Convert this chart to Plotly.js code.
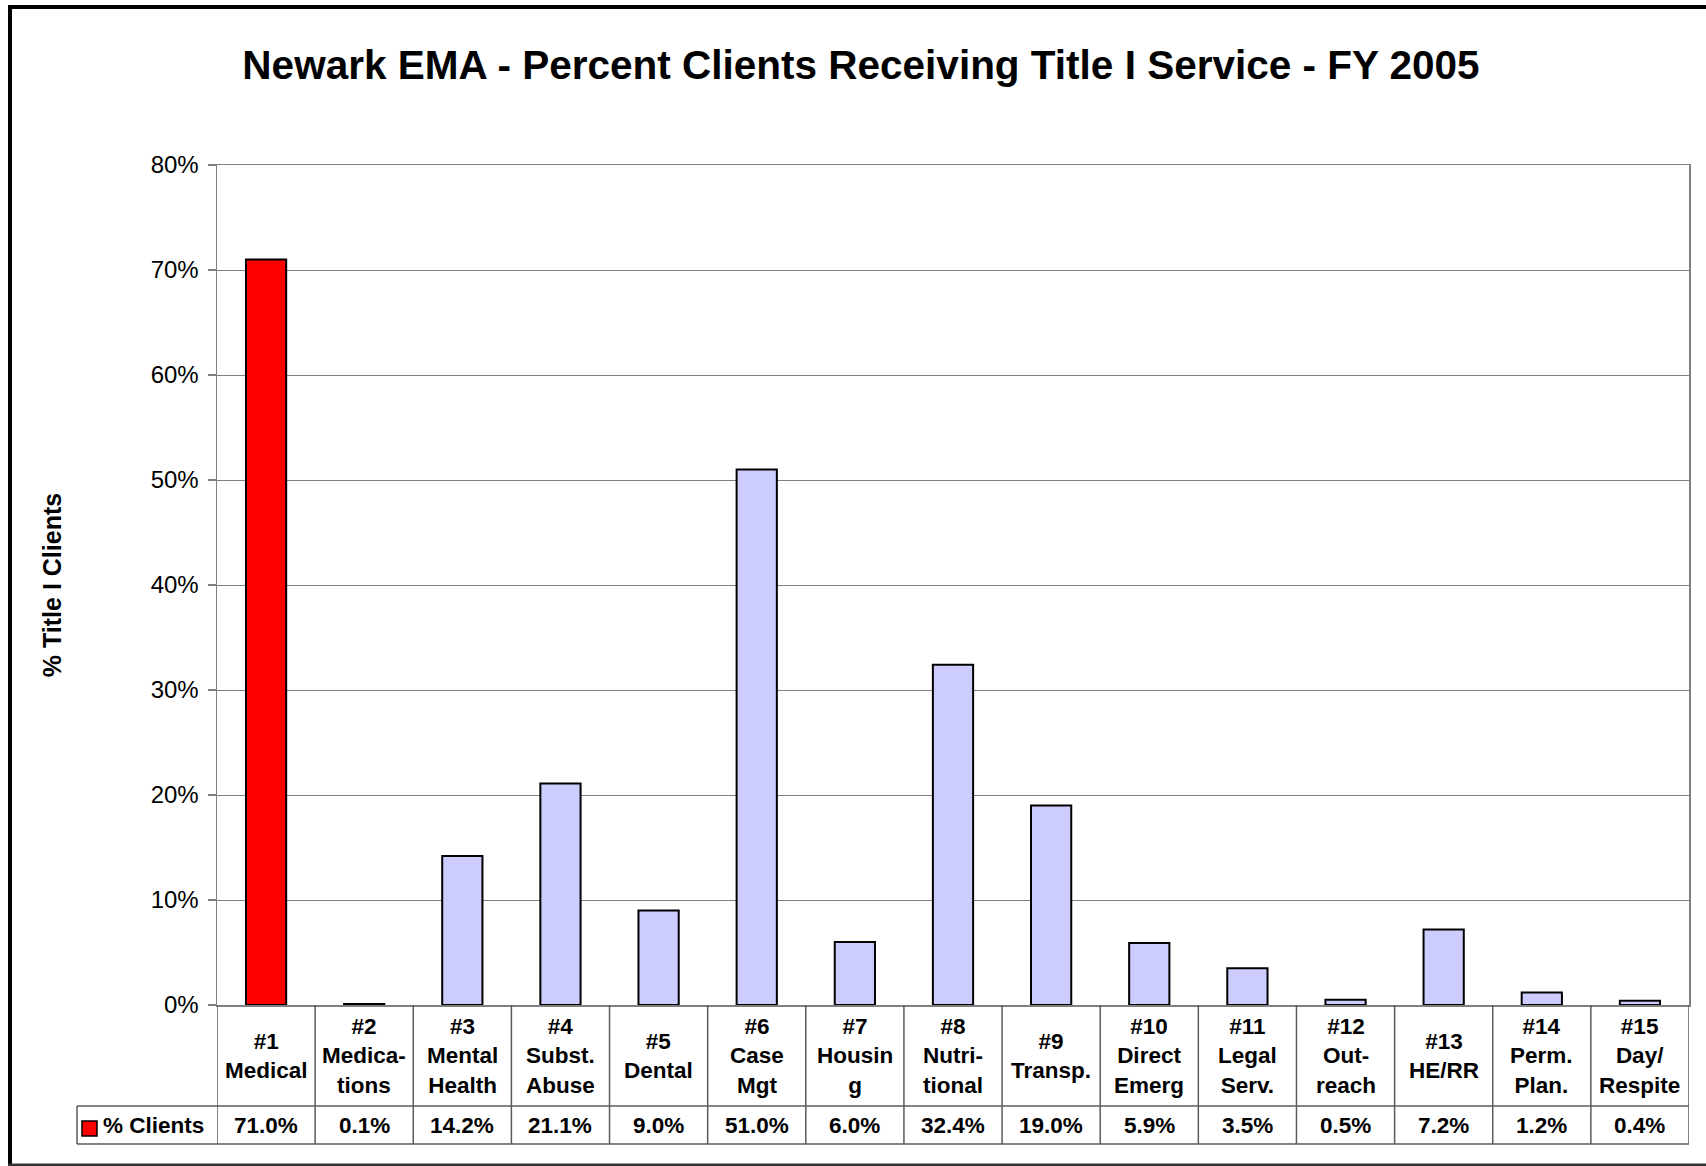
<!DOCTYPE html>
<html>
<head>
<meta charset="utf-8">
<script src="https://cdn.plot.ly/plotly-3.0.1.min.js"></script>
<style>
  html, body { margin: 0; padding: 0; background: #ffffff; }
  #chart { width: 1706px; height: 1166px; }
</style>
</head>
<body>
<div id="chart"></div>
<script>
// ---- Data ----
const codes = ['#1', '#2', '#3', '#4', '#5', '#6', '#7', '#8', '#9', '#10', '#11', '#12', '#13', '#14', '#15'];
const serviceNames = [
  ['Medical'],
  ['Medica-', 'tions'],
  ['Mental', 'Health'],
  ['Subst.', 'Abuse'],
  ['Dental'],
  ['Case', 'Mgt'],
  ['Housin', 'g'],
  ['Nutri-', 'tional'],
  ['Transp.'],
  ['Direct', 'Emerg'],
  ['Legal', 'Serv.'],
  ['Out-', 'reach'],
  ['HE/RR'],
  ['Perm.', 'Plan.'],
  ['Day/', 'Respite']
];
const pctClients = [0.710, 0.001, 0.142, 0.211, 0.090, 0.510, 0.060, 0.324, 0.190, 0.059, 0.035, 0.005, 0.072, 0.012, 0.004];
const seriesName = '% Clients';
const chartTitle = 'Newark EMA - Percent Clients Receiving Title I Service - FY 2005';
const yTitle = '% Title I Clients';

// ---- Layout geometry ----
const W = 1706, H = 1166;
const L = 217, R = 17, T = 165, B = 161;
const plotW = W - L - R, plotH = H - T - B;
const bottomPx = H - B;
const px = (x) => (x - L) / plotW;          // pixel x -> paper x
const py = (y) => (bottomPx - y) / plotH;   // pixel y -> paper y

const FONT = 'Liberation Sans, Arial, Helvetica, sans-serif';
const tableLine = { color: '#5a5a5a', width: 1.5 };

const barColors = pctClients.map((v, i) => i === 0 ? '#FF0000' : '#CCCCFF');

const trace = {
  type: 'bar',
  x: codes,
  y: pctClients,
  name: seriesName,
  marker: { color: barColors, line: { color: '#000000', width: 2 } },
  hoverinfo: 'x+y',
  showlegend: false
};

// ---- Data table under the chart ----
const shapes = [];
const rowSplitPx = 1106, tableBottomPx = 1144, legendCellLeftPx = 77;
for (let i = 0; i <= codes.length; i++) {
  shapes.push({ type: 'line', xref: 'x', yref: 'paper', x0: i - 0.5, x1: i - 0.5,
    y0: 0, y1: py(tableBottomPx), line: tableLine });
}
shapes.push({ type: 'line', xref: 'paper', yref: 'paper', x0: px(legendCellLeftPx), x1: 1,
  y0: py(rowSplitPx), y1: py(rowSplitPx), line: tableLine });
shapes.push({ type: 'line', xref: 'paper', yref: 'paper', x0: px(legendCellLeftPx), x1: 1,
  y0: py(tableBottomPx), y1: py(tableBottomPx), line: tableLine });
shapes.push({ type: 'line', xref: 'paper', yref: 'paper', x0: px(legendCellLeftPx), x1: px(legendCellLeftPx),
  y0: py(rowSplitPx), y1: py(tableBottomPx), line: tableLine });
// legend key
shapes.push({ type: 'rect', xref: 'paper', yref: 'paper', x0: px(82), x1: px(97),
  y0: py(1136), y1: py(1121), fillcolor: '#FF0000', line: { color: '#000000', width: 1.5 } });
// outer chart frame (right side lies beyond the picture)
const frameLine = { color: '#000000', width: 4 };
shapes.push({ type: 'line', xref: 'paper', yref: 'paper', x0: px(8), x1: px(W),
  y0: py(7), y1: py(7), line: frameLine });
shapes.push({ type: 'line', xref: 'paper', yref: 'paper', x0: px(10), x1: px(10),
  y0: py(5), y1: py(1167), line: frameLine });
shapes.push({ type: 'line', xref: 'paper', yref: 'paper', x0: px(8), x1: px(W),
  y0: py(1165), y1: py(1165), line: { color: '#333333', width: 3 } });

const annotations = [];
codes.forEach((c, i) => {
  annotations.push({
    xref: 'x', yref: 'paper', x: c, y: py((bottomPx + rowSplitPx) / 2),
    xanchor: 'center', yanchor: 'middle', showarrow: false, align: 'center',
    text: [c].concat(serviceNames[i]).join('<br>'),
    font: { family: FONT, size: 22.5, color: '#000000', weight: 'bold' }
  });
  annotations.push({
    xref: 'x', yref: 'paper', x: c, y: py((rowSplitPx + tableBottomPx) / 2),
    xanchor: 'center', yanchor: 'middle', showarrow: false,
    text: (pctClients[i] * 100).toFixed(1) + '%',
    font: { family: FONT, size: 22.5, color: '#000000', weight: 'bold' }
  });
});
annotations.push({
  xref: 'paper', yref: 'paper', x: px(101), y: py((rowSplitPx + tableBottomPx) / 2),
  xanchor: 'left', yanchor: 'middle', showarrow: false,
  text: seriesName,
  font: { family: FONT, size: 22.5, color: '#000000', weight: 'bold' }
});

const layout = {
  width: W, height: H,
  margin: { l: L, r: R, t: T, b: B, pad: 0 },
  paper_bgcolor: '#ffffff',
  plot_bgcolor: '#ffffff',
  font: { family: FONT, color: '#000000' },
  title: {
    text: chartTitle,
    font: { family: FONT, size: 40.5, color: '#000000', weight: 'bold' },
    xref: 'container', yref: 'container',
    x: 861 / W, xanchor: 'center',
    y: 1 - 65 / H, yanchor: 'middle'
  },
  bargap: 0.59,
  xaxis: {
    type: 'category',
    range: [-0.5, codes.length - 0.5],
    showticklabels: false,
    ticks: '',
    showgrid: false,
    zeroline: false,
    showline: true, mirror: true,
    linecolor: '#808080', linewidth: 1.5,
    fixedrange: true
  },
  yaxis: {
    range: [0, 0.8],
    dtick: 0.1,
    tick0: 0,
    tickformat: '.0%',
    ticks: 'outside', ticklen: 8, tickcolor: '#808080', tickwidth: 1.5,
    ticklabelstandoff: 4,
    tickfont: { family: FONT, size: 24, color: '#000000' },
    showgrid: true, gridcolor: '#808080', gridwidth: 1,
    zeroline: false,
    showline: true, mirror: true,
    linecolor: '#808080', linewidth: 1.5,
    title: {
      text: yTitle,
      font: { family: FONT, size: 25, color: '#000000', weight: 'bold' },
      standoff: 82
    },
    fixedrange: true
  },
  shapes: shapes,
  annotations: annotations
};

Plotly.newPlot('chart', [trace], layout, { displayModeBar: false, staticPlot: true });
</script>
</body>
</html>
